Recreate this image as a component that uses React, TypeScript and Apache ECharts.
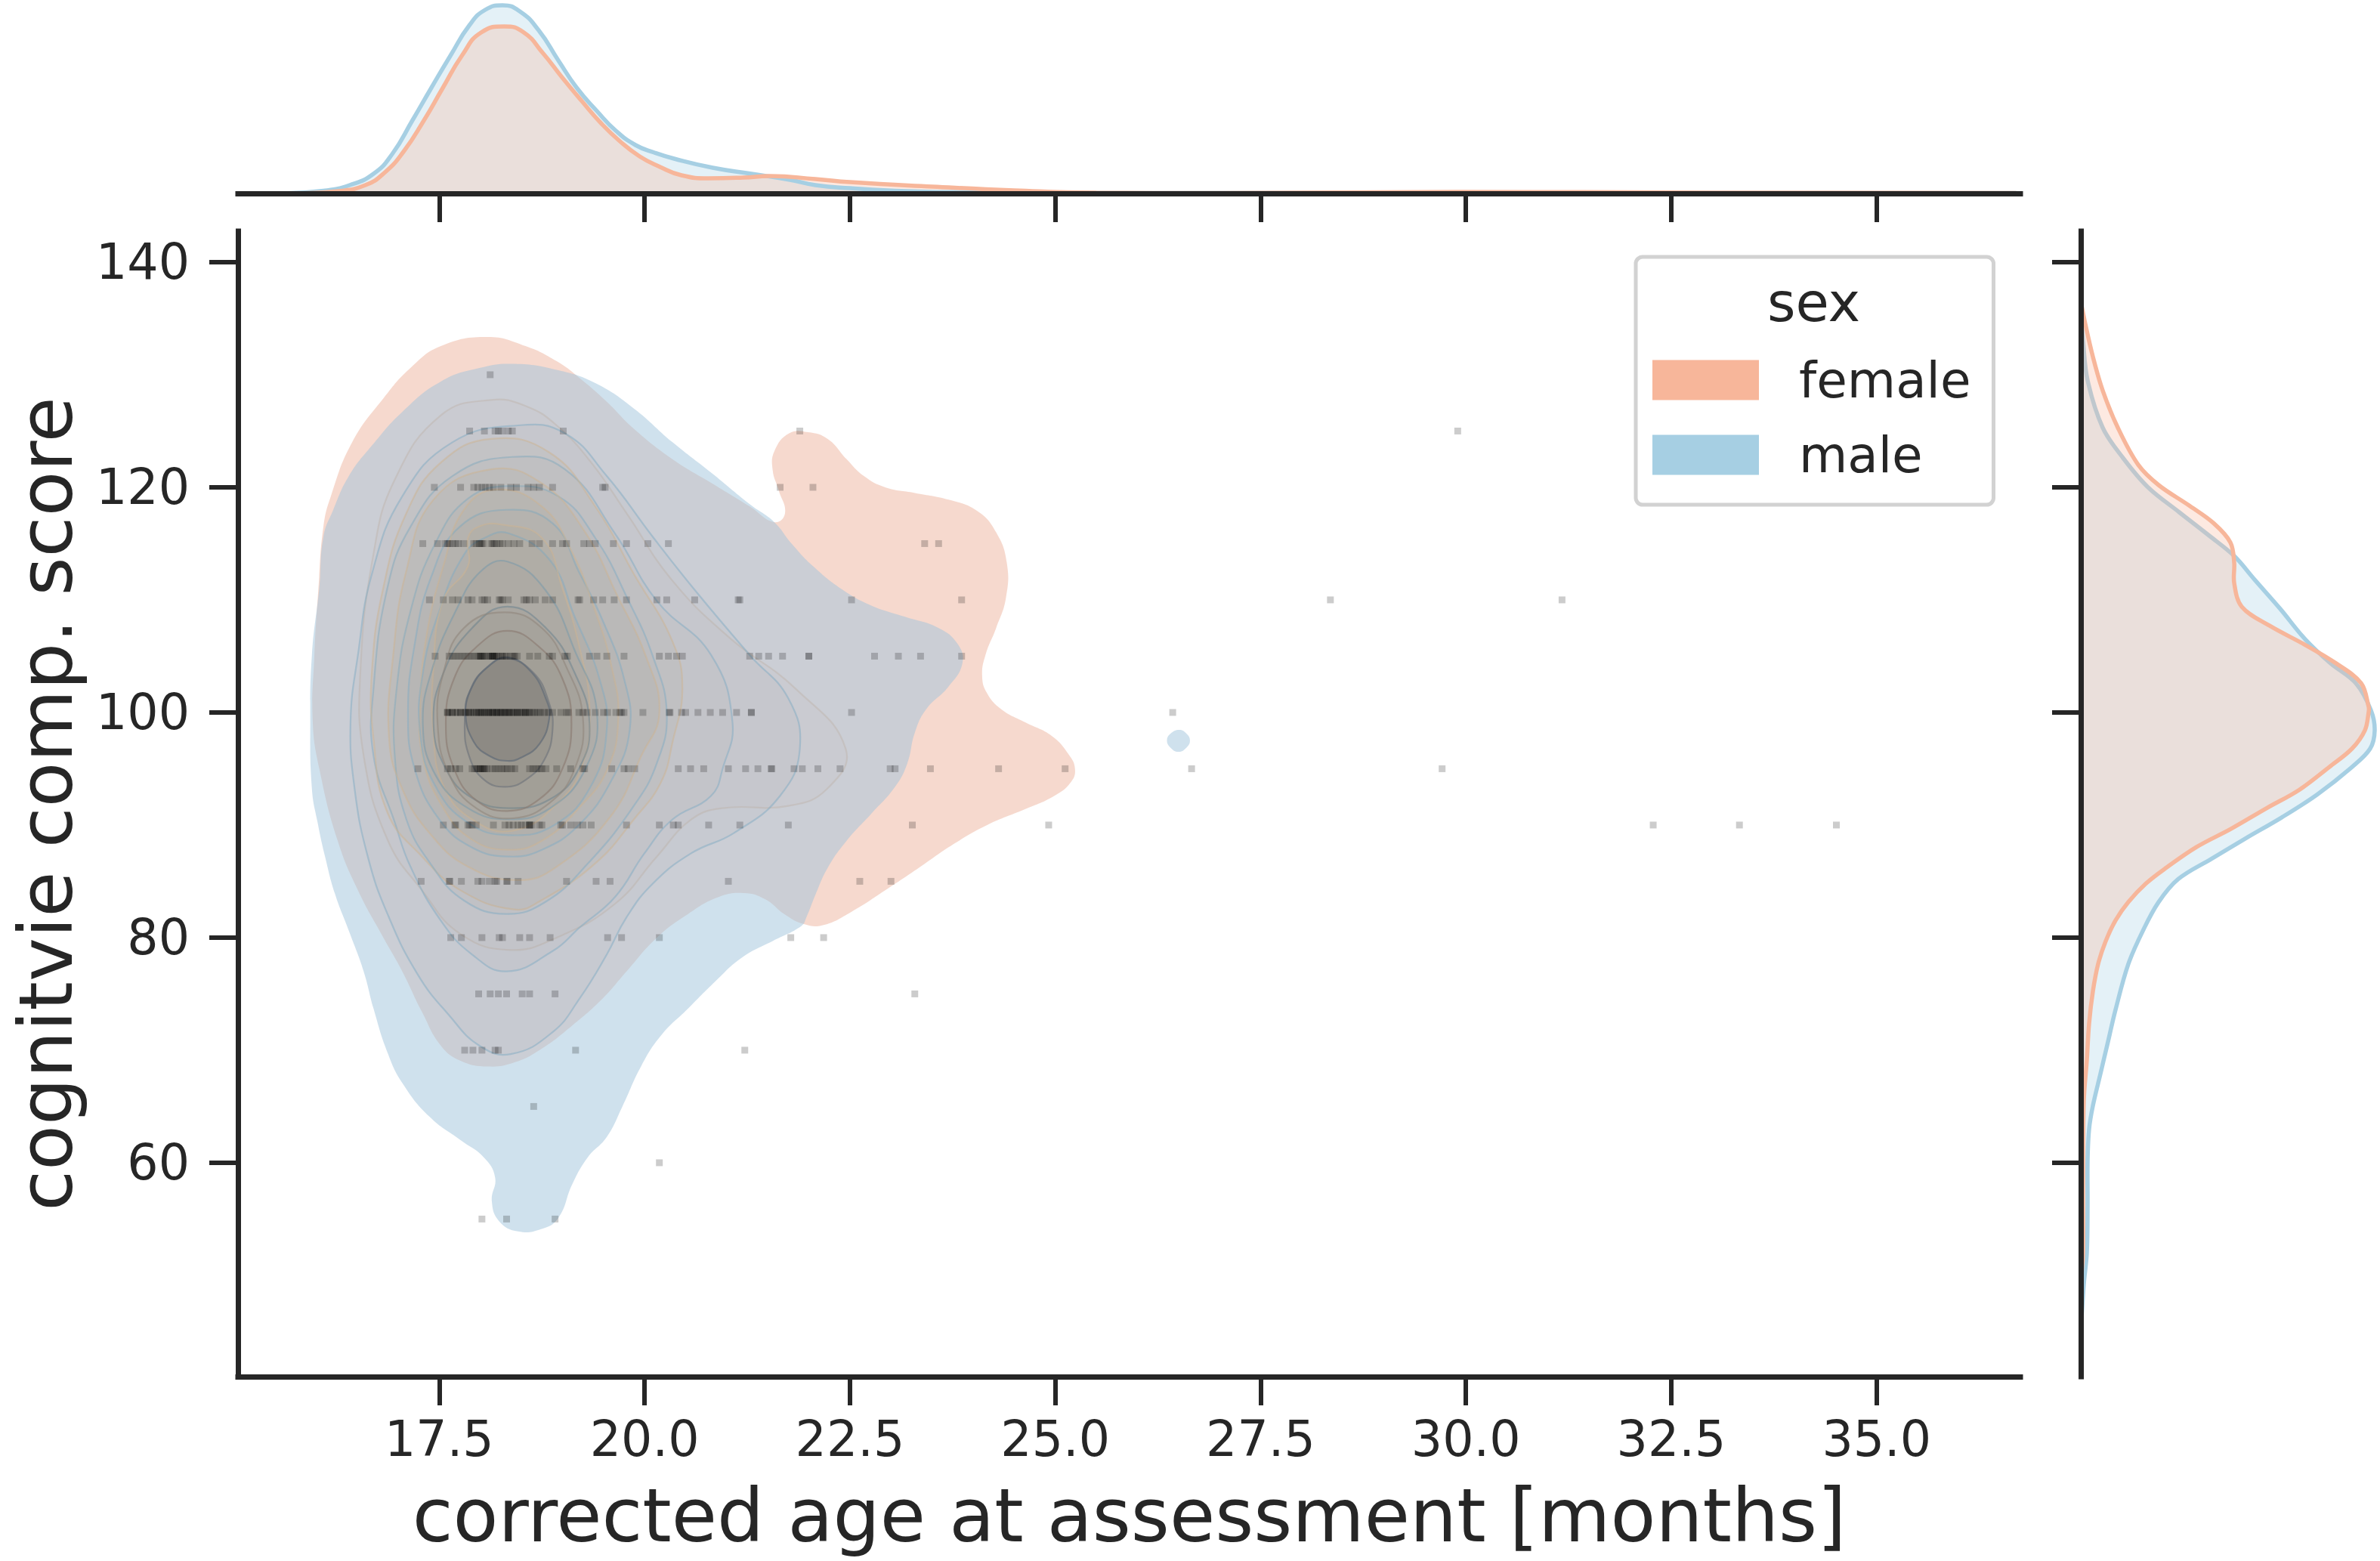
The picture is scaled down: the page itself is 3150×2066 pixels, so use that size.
import React, { useEffect, useRef } from "react";
import * as echarts from "echarts";

// ---------- ticks & labels ----------
const ageTicks = [17.5, 20, 22.5, 25, 27.5, 30, 32.5, 35];
const scoreTicks = [60, 80, 100, 120, 140];
const xTitle = "corrected age at assessment [months]";
const yTitle = "cognitvie comp. score";
const sexLabels = ["female", "male"];

// ---------- KDE contour levels, [age, score] ----------
const femaleL0 = [[18.09,133.36],[18.55,132.55],[18.93,131.2],[19.21,129.7],[19.54,127.6],[19.87,125.2],[20.34,122.5],[20.81,120.4],[21.28,118.3],[21.58,116.9],[21.71,117.7],[21.63,119.8],[21.56,121.5],[21.58,123.2],[21.76,124.8],[21.99,124.9],[22.23,124.3],[22.46,122.5],[22.67,121],[22.93,120],[23.29,119.5],[23.7,118.9],[24.05,117.9],[24.28,116],[24.41,113.3],[24.4,110.2],[24.28,107.5],[24.15,105.1],[24.11,103.2],[24.17,101.7],[24.34,100.3],[24.64,99.1],[24.96,97.9],[25.16,96.3],[25.24,95],[25.19,93.8],[24.99,92.6],[24.63,91.4],[24.17,90],[23.76,88.3],[23.34,86.2],[22.93,84.2],[22.52,82.3],[22.17,81.1],[21.94,81.2],[21.7,82.1],[21.47,83.4],[21.21,83.95],[20.9,83.6],[20.53,82.1],[20.15,80],[19.78,77],[19.49,74.6],[19.12,72.2],[18.74,70.1],[18.41,68.9],[18.09,68.55],[17.76,69.06],[17.52,70.4],[17.29,73.4],[17.05,77],[16.82,80],[16.51,84.2],[16.26,88.68],[16.04,95],[15.96,99.15],[15.98,105.1],[16.03,111.1],[16.09,116.5],[16.18,119.2],[16.44,124],[16.82,127.9],[17.15,130.6],[17.52,132.55]];
const maleL0 = [[18.41,130.97],[18.95,130.4],[19.4,129.26],[19.87,127],[20.34,124],[20.81,121.3],[21.28,118.5],[21.58,116.9],[21.79,115],[22.05,113],[22.41,110.9],[22.76,109.5],[23.17,108.5],[23.58,107.5],[23.81,106.1],[23.87,104.4],[23.7,102.3],[23.43,100.3],[23.29,98.2],[23.2,95.5],[23.05,93.4],[22.76,91],[22.46,88.6],[22.23,86.2],[22.08,83.8],[21.97,81.8],[21.91,81.04],[21.56,79.7],[21.18,78.2],[20.86,76.1],[20.53,73.7],[20.2,71.3],[19.96,68.6],[19.73,65],[19.54,62.3],[19.31,60.5],[19.12,58.1],[18.95,55.1],[18.74,54.1],[18.46,53.9],[18.23,54.8],[18.14,56.6],[18.18,58.7],[18.04,60.5],[17.76,62],[17.38,64.1],[17.05,67.1],[16.87,69.8],[16.7,73.7],[16.58,77],[16.4,80.6],[16.23,83.9],[16.11,87.2],[16.02,90.2],[15.95,93.2],[15.93,99.15],[15.95,105.1],[16.04,111.1],[16.09,115.6],[16.21,118],[16.4,121],[16.68,123.7],[17.05,126.7],[17.52,129.4],[17.99,130.6]];
const maleBlob = [[26.51,98.45],[26.6,98.1],[26.64,97.5],[26.6,96.9],[26.5,96.5],[26.4,96.9],[26.36,97.5],[26.4,98.1]];
const femaleL1 = [[18.13,127.76],[18.56,127.2],[18.93,125.5],[19.35,122.2],[19.78,117.7],[20.34,111.7],[21.04,106.6],[21.84,102.1],[22.45,96.75],[22.22,93.2],[21.75,91.7],[20.95,91.5],[20.57,90.5],[20.15,87.2],[19.64,83],[18.93,80],[18.37,78.9],[17.76,80.3],[17.29,84.2],[16.87,88.7],[16.58,96.15],[16.54,103.6],[16.7,114.1],[16.96,120.7],[17.52,126.4]];
const maleL1 = [[18.46,125.5],[19.03,124.8],[19.54,121],[20.1,115.6],[20.62,110.8],[21.28,105.1],[21.75,101.25],[21.89,96.75],[21.65,92.6],[21.09,89.3],[20.57,87.5],[20.1,84.8],[19.78,81.8],[19.54,78.5],[19.21,74.6],[18.88,71.6],[18.37,69.65],[17.99,70.4],[17.62,73.1],[17.24,76.7],[16.87,82.1],[16.63,87.2],[16.47,93.2],[16.42,99.15],[16.51,105.1],[16.68,112.3],[17.05,119.2],[17.66,124]];
const femaleL2 = [[18.13,124.3],[18.84,123.1],[19.4,118.3],[19.87,112.3],[20.34,106.3],[20.46,102.15],[20.34,97.35],[20.2,93.8],[19.87,90.5],[19.4,86.6],[18.74,83.3],[18.41,82.5],[17.76,84.2],[17.29,87.2],[16.87,91.1],[16.7,97.65],[16.68,103.6],[16.82,111.1],[17.1,117.7],[17.52,122.2]];
const maleL2 = [[18.39,122.7],[19.03,121.6],[19.64,115.9],[20.15,109.9],[20.81,105.1],[21.07,99.15],[20.95,95],[20.81,92.6],[20.34,90.5],[20,87.5],[19.64,83.6],[19.21,80.9],[18.88,78.8],[18.32,77],[17.9,78.5],[17.52,81.5],[17.15,86.3],[16.96,90.2],[16.7,96.15],[16.7,102.15],[16.87,111.1],[17.15,116.5],[17.66,121]];
const femaleL3 = [[18.13,121.6],[18.74,120.4],[19.26,116.2],[19.68,110.2],[20.01,105.1],[20.18,100],[19.96,96.15],[19.59,90.8],[18.93,86.3],[18.46,85.1],[17.85,86.3],[17.38,89.3],[17.05,93.2],[16.89,97.65],[16.94,105.1],[17.1,112.6],[17.43,118.9]];
const maleL3 = [[18.35,120.1],[18.95,119.2],[19.4,115.5],[19.8,110],[20.1,105],[20.27,100],[20.15,95.5],[19.85,91.5],[19.3,86.5],[18.8,83.2],[18.32,82.1],[17.8,83.3],[17.4,86.5],[17.1,90.5],[16.96,96],[16.98,102],[17.15,109],[17.45,115],[17.85,119]];
const femaleL4 = [[18.2,119.8],[18.75,118.3],[19.1,114.5],[19.4,109],[19.6,104],[19.68,99.5],[19.55,95],[19.2,91.5],[18.75,88.6],[18.35,87.8],[17.9,88.7],[17.55,91.5],[17.3,96],[17.27,101],[17.35,107],[17.55,113],[17.8,118]];
const maleL4 = [[18.32,118],[18.88,116.8],[19.2,112.5],[19.5,108],[19.75,103],[19.82,98.5],[19.6,94],[19.2,90],[18.75,87.8],[18.35,87.2],[17.9,88],[17.5,90.5],[17.2,95],[17.12,100],[17.2,106],[17.4,112],[17.75,116.5]];
const femaleL5 = [[18.25,116.7],[18.75,115.5],[19,111],[19.2,106],[19.33,100.5],[19.25,95.5],[18.95,92],[18.4,89.5],[17.9,90.5],[17.55,93.5],[17.43,98],[17.43,104],[17.55,110],[17.85,113],[17.85,115.5],[17.98,116.5]];
const maleL5 = [[18.35,115.9],[18.85,113.5],[19.15,108.5],[19.45,103],[19.54,98.5],[19.35,93.5],[18.9,90],[18.35,89.1],[17.85,90.2],[17.45,93.5],[17.27,98],[17.3,103.5],[17.5,109],[17.8,114],[18.05,115.5]];
const femaleL6 = [[18.3,108.9],[18.75,107.5],[19.05,104],[19.25,99.5],[19.15,95],[18.85,92],[18.4,90.6],[17.95,91.5],[17.62,94.5],[17.48,99],[17.55,103.5],[17.8,107.5]];
const maleL6 = [[18.33,113.4],[18.8,110.8],[19.15,105.5],[19.42,100],[19.28,95],[18.85,91.5],[18.35,90.5],[17.85,91.5],[17.45,94.5],[17.3,99],[17.42,104],[17.7,109],[18,112.5]];
const femaleL7 = [[18.33,107.25],[18.72,105.8],[19,103],[19.11,99],[19,95],[18.72,92.3],[18.33,91.25],[17.95,92.2],[17.68,95],[17.58,99],[17.68,103],[17.95,105.8]];
const maleL7 = [[18.33,109.4],[18.8,107.5],[19.15,103.5],[19.33,99],[19.2,95],[18.85,92.3],[18.35,91.5],[17.9,92.4],[17.58,95],[17.43,99],[17.55,103.5],[17.9,107.5]];
const femaleL8 = [[18.33,104.8],[18.65,103.5],[18.83,101],[18.88,98.5],[18.78,95.8],[18.55,94],[18.3,93.4],[18.05,94],[17.87,96],[17.81,99],[17.88,102],[18.08,104]];
const maleL8 = [[18.33,104.9],[18.62,103.6],[18.8,101.2],[18.84,99.5],[18.72,97.2],[18.5,96],[18.33,95.7],[18.12,96.1],[17.92,97.4],[17.82,100],[17.9,102.3],[18.1,104.1]];

// ---------- individual assessments: ages per score row ----------
const dots130 = [18.12];
const dots125 = [17.87,18.05,18.18,18.22,18.26,18.34,18.39,19.01,21.89,29.9];
const dots120 = [17.44,17.76,17.92,17.97,18.02,18.06,18.11,18.16,18.25,18.37,18.44,18.58,18.65,18.72,18.88,19.49,19.52,21.65,22.05];
const dots115 = [17.3,17.48,17.57,17.6,17.62,17.66,17.7,17.73,17.8,17.92,17.95,17.99,18.0,18.02,18.04,18.13,18.15,18.17,18.2,18.24,18.27,18.34,18.41,18.48,18.63,18.72,18.88,19,19.05,19.26,19.33,19.4,19.62,19.78,20.04,20.29,23.41,23.58];
const dots110 = [17.38,17.55,17.66,17.73,17.85,17.9,18.02,18.05,18.09,18.23,18.25,18.27,18.34,18.53,18.56,18.6,18.67,18.79,18.88,19.19,19.21,19.38,19.49,19.63,19.78,20.15,20.27,20.61,21.14,21.16,22.52,23.86,28.35,31.17];
const dots105 = [17.45,17.62,17.66,17.7,17.74,17.78,17.82,17.86,17.9,17.94,17.98,18,18,18.02,18.02,18.05,18.08,18.1,18.13,18.15,18.15,18.15,18.17,18.17,18.2,18.22,18.25,18.27,18.3,18.32,18.37,18.4,18.42,18.45,18.6,18.7,18.84,18.88,19.03,19.06,19.33,19.42,19.54,19.75,20.18,20.29,20.39,20.46,21.28,21.39,21.51,21.68,22,22,22.8,23.09,23.36,23.86];
const dots100 = [17.6,17.6,17.62,17.66,17.66,17.7,17.72,17.76,17.76,17.8,17.82,17.86,17.86,17.88,17.92,17.95,17.95,17.98,18,18.02,18.02,18.05,18.07,18.1,18.1,18.12,18.15,18.15,18.17,18.2,18.2,18.22,18.25,18.25,18.27,18.3,18.3,18.33,18.35,18.35,18.38,18.4,18.42,18.45,18.45,18.48,18.5,18.53,18.55,18.55,18.58,18.6,18.63,18.66,18.7,18.73,18.78,18.83,18.88,18.98,19.05,19.07,19.2,19.25,19.3,19.4,19.5,19.55,19.65,19.7,19.72,19.75,19.98,20.3,20.31,20.45,20.5,20.65,20.8,20.95,21.12,21.3,21.3,22.52,26.43];
const dots95 = [17.24,17.6,17.64,17.7,17.75,17.9,17.93,17.96,17.98,18,18,18.03,18.05,18.05,18.08,18.14,18.18,18.22,18.26,18.3,18.33,18.38,18.42,18.6,18.64,18.68,18.72,18.75,18.8,18.93,19.1,19.25,19.27,19.6,19.75,19.8,19.88,20.41,20.56,20.72,21.02,21.23,21.38,21.54,21.55,21.82,21.92,22.11,22.38,22.99,23.05,23.48,24.31,25.12,26.66,29.71];
const dots90 = [17.55,17.69,17.7,17.85,17.87,17.9,17.95,18.16,18.3,18.35,18.4,18.46,18.5,18.55,18.6,18.6,18.6,18.63,18.72,18.75,18.98,19,19.1,19.18,19.25,19.35,19.78,20.18,20.35,20.41,20.78,21.16,21.75,23.26,24.92,32.28,33.33,34.51];
const dots85 = [17.28,17.62,17.63,17.77,17.97,18.02,18.11,18.18,18.2,18.32,18.33,18.46,19.05,19.41,19.58,21.02,22.62,23.0];
const dots80 = [17.64,17.77,18.02,18.23,18.27,18.48,18.6,18.85,19.55,19.72,20.18,21.78,22.18];
const dots75 = [17.98,18.12,18.22,18.32,18.51,18.6,18.91,23.29];
const dots70 = [17.81,17.91,18.02,18.18,18.22,19.16,21.22];
const dots65 = [18.65];
const dots60 = [20.18];
const dots55 = [18.02,18.32,18.91];

// ---------- marginal densities ----------
const maleAge = [15.6,16.09,16.41,16.7,16.93,17.17,17.4,17.64,17.87,18.06,18.27,18.48,18.71,18.95,19.18,19.42,19.65,19.89,20.12,20.36,20.83,21.3,21.77,22.08,22.5,23.2,24,26,30,36.7];
const maleAgeDensity = [0,0.007,0.022,0.052,0.105,0.192,0.278,0.366,0.446,0.486,0.498,0.482,0.432,0.352,0.278,0.218,0.166,0.128,0.108,0.092,0.068,0.052,0.036,0.022,0.014,0.006,0.003,0.001,0.002,0.001];
const femaleAge = [15.8,16.27,16.6,16.84,17.07,17.31,17.54,17.78,18.01,18.29,18.53,18.76,19,19.23,19.47,19.7,19.94,20.17,20.45,20.78,21.2,21.53,22.08,22.5,23.5,24.5,25.5,27,29.9,33,36.7];
const femaleAgeDensity = [0,0.006,0.022,0.056,0.112,0.192,0.278,0.366,0.426,0.442,0.426,0.372,0.306,0.246,0.186,0.138,0.098,0.072,0.048,0.04,0.042,0.046,0.038,0.03,0.018,0.008,0.002,0.001,0.004,0.002,0.001];

const maleScore = [136,133,129.5,125.3,122.6,120,117.8,115.7,113.9,111.8,109.2,106.5,104.4,102.6,100.2,98.41,96.79,95.16,92.72,90.68,88.85,87,85.2,83.16,80.72,77.67,73.6,70.75,67.9,65.06,63,60.18,56.1,52,49.2,45];
const maleScoreDensity = [0,0.0003,0.0009,0.0029,0.0056,0.0089,0.013,0.017,0.0203,0.023,0.0264,0.0297,0.033,0.0364,0.0384,0.0389,0.0383,0.0359,0.0313,0.0266,0.0219,0.0173,0.0129,0.0103,0.0083,0.0063,0.0046,0.0036,0.0026,0.0016,0.0011,0.0009,0.0009,0.0008,0.0004,0];
const femaleScore = [136.5,134.5,131.6,128.6,125.3,122,120.2,118.4,116.8,115.1,113.3,111.5,109.4,107.7,106,104.4,102.6,100.5,100.04,98.41,96.79,95.16,93.12,91.5,89.67,88.04,86.2,84.79,83.16,81.53,79.7,77.67,75.23,72.38,69.12,65.5,58.1,52,50,46];
const femaleScoreDensity = [0,0.0006,0.0016,0.0029,0.0049,0.0076,0.0103,0.0143,0.0176,0.0198,0.0203,0.0203,0.0213,0.025,0.0297,0.0337,0.0371,0.0381,0.0381,0.0376,0.0359,0.0329,0.0289,0.0246,0.0199,0.0153,0.0113,0.0086,0.0063,0.0046,0.0033,0.0023,0.0016,0.0011,0.0008,0.0004,0.0003,0.0003,0.0001,0];

// ---------- styling ----------
const INK = "#262626";
const FONT = "DejaVu Sans";
const FEMALE = "#F7B69A";
const MALE = "#A6CFE3";

const pair = (a: number[], b: number[]) => a.map((v, i) => [v, b[i]]);
const row = (score: number, ages: number[]) => ages.map((a) => [a, score]);

const dots = [
  ...row(130, dots130), ...row(125, dots125), ...row(120, dots120), ...row(115, dots115),
  ...row(110, dots110), ...row(105, dots105), ...row(100, dots100), ...row(95, dots95),
  ...row(90, dots90), ...row(85, dots85), ...row(80, dots80), ...row(75, dots75),
  ...row(70, dots70), ...row(65, dots65), ...row(60, dots60), ...row(55, dots55),
];

const fInner = "rgba(145,130,85,0.06)";
const mInner = "rgba(115,118,110,0.035)";
const fLine = "rgba(205,180,145,0.5)";
const mLine = "rgba(130,172,195,0.5)";
const layers = [
  { pts: femaleL0, fill: "rgba(237,179,157,0.5)", line: "none" },
  { pts: maleL0, fill: "rgba(159,195,219,0.5)", line: "none" },
  { pts: maleBlob, fill: "rgba(159,195,219,0.5)", line: "none" },
  { pts: femaleL1, fill: "rgba(175,155,115,0.04)", line: "rgba(190,180,170,0.45)" },
  { pts: maleL1, fill: mInner, line: mLine },
  { pts: maleL2, fill: mInner, line: mLine },
  { pts: femaleL2, fill: fInner, line: fLine },
  { pts: maleL3, fill: mInner, line: mLine },
  { pts: femaleL3, fill: fInner, line: fLine },
  { pts: maleL4, fill: mInner, line: mLine },
  { pts: femaleL4, fill: fInner, line: fLine },
  { pts: maleL5, fill: mInner, line: mLine },
  { pts: femaleL5, fill: fInner, line: fLine },
  { pts: maleL6, fill: mInner, line: "rgba(125,155,170,0.6)" },
  { pts: maleL7, fill: "rgba(100,100,95,0.05)", line: "rgba(115,135,145,0.6)" },
  { pts: femaleL6, fill: "rgba(125,115,90,0.05)", line: "rgba(145,135,125,0.6)" },
  { pts: femaleL7, fill: "rgba(115,108,90,0.07)", line: "rgba(140,125,115,0.65)" },
  { pts: femaleL8, fill: "rgba(95,95,90,0.12)", line: "rgba(115,120,125,0.7)" },
  { pts: maleL8, fill: "rgba(90,90,90,0.2)", line: "rgba(100,110,120,0.75)" },
];

const axisBase = {
  z: 10,
  axisLine: { show: true, lineStyle: { color: INK, width: 7, cap: "square" } },
  axisTick: { show: true, length: 38, lineStyle: { color: INK, width: 6 } },
  splitLine: { show: false },
};

const curve = (name: string, color: string, xs: number[], ys: number[], alpha: number) => ({
  type: "line", name, xAxisIndex: 1, yAxisIndex: 1, data: pair(xs, ys),
  showSymbol: false, symbol: "none", smooth: 0.5, color,
  lineStyle: { color, width: 5.5 }, areaStyle: { color, opacity: alpha }, silent: true,
});

const sideCurve = (name: string, color: string, hs: number[], vs: number[], alpha: number) => ({
  type: "custom", name, xAxisIndex: 2, yAxisIndex: 2, data: [[0, 100]], silent: true, color,
  renderItem: (_: any, api: any) => {
    const pts = pair(hs, vs).map((p) => api.coord(p));
    const base = [api.coord([0, vs[0]]), ...pts, api.coord([0, vs[vs.length - 1]])];
    return {
      type: "group",
      children: [
        { type: "polygon", shape: { points: base, smooth: 0.35 }, style: { fill: color, opacity: alpha, stroke: "none" } },
        { type: "polyline", shape: { points: pts, smooth: 0.35 }, style: { fill: "none", stroke: color, lineWidth: 5.5 } },
      ],
    };
  },
});

function buildOption() {
  return {
    animation: false,
    backgroundColor: "#ffffff",
    textStyle: { fontFamily: FONT },
    grid: [
      { left: 315, top: 306, width: 2359, height: 1516, outerBoundsMode: "none" },
      { left: 315, top: 0, width: 2359, height: 256, outerBoundsMode: "none" },
      { left: 2754, top: 306, width: 396, height: 1516, outerBoundsMode: "none" },
    ],
    xAxis: [
      {
        ...axisBase, type: "value", gridIndex: 0, min: 15.05, max: 36.75,
        name: xTitle, nameLocation: "middle", nameGap: 135,
        nameTextStyle: { fontFamily: FONT, fontSize: 98, color: INK },
        axisTick: { ...axisBase.axisTick, customValues: ageTicks },
        axisLabel: { customValues: ageTicks, margin: 50, fontFamily: FONT, fontSize: 65, color: INK, formatter: (v: number) => v.toFixed(1), hideOverlap: false },
      },
      {
        ...axisBase, type: "value", gridIndex: 1, min: 15.05, max: 36.75,
        axisTick: { ...axisBase.axisTick, customValues: ageTicks },
        axisLabel: { show: false },
      },
      { type: "value", gridIndex: 2, min: 0, max: 0.0396, show: false },
    ],
    yAxis: [
      {
        ...axisBase, type: "value", gridIndex: 0, min: 41, max: 142.75,
        name: yTitle, nameLocation: "middle", nameGap: 205, nameRotate: 90,
        nameTextStyle: { fontFamily: FONT, fontSize: 98, color: INK },
        axisTick: { ...axisBase.axisTick, customValues: scoreTicks },
        axisLabel: { customValues: scoreTicks, margin: 64, fontFamily: FONT, fontSize: 65, color: INK },
      },
      { type: "value", gridIndex: 1, min: 0, max: 0.512, show: false },
      {
        ...axisBase, type: "value", gridIndex: 2, min: 41, max: 142.75,
        axisTick: { ...axisBase.axisTick, customValues: scoreTicks },
        axisLabel: { show: false },
      },
    ],
    legend: {
      left: 2165, top: 340, orient: "vertical", selectedMode: false,
      padding: [130, 30, 33, 22], itemWidth: 141, itemHeight: 53, itemGap: 33,
      backgroundColor: "#ffffff", borderColor: "#d2d2d2", borderWidth: 5, borderRadius: 9,
      textStyle: { fontFamily: FONT, fontSize: 66, color: INK, padding: [0, 0, 0, 48] },
      data: [
        { name: sexLabels[0], icon: "rect", itemStyle: { color: FEMALE, opacity: 1 } },
        { name: sexLabels[1], icon: "rect", itemStyle: { color: MALE, opacity: 1 } },
      ],
      z: 20,
    },
    graphic: [
      { type: "text", z: 30, left: 2339, top: 364, style: { text: "sex", font: `72px '${FONT}'`, fill: INK } },
    ],
    series: [
      {
        type: "custom", xAxisIndex: 0, yAxisIndex: 0, silent: true, clip: true,
        data: layers.map((_, i) => [i]),
        renderItem: (params: any, api: any) => {
          const l = layers[params.dataIndex];
          return {
            type: "polygon",
            shape: { points: l.pts.map((p) => api.coord(p)), smooth: 0.45 },
            style: { fill: l.fill, stroke: l.line, lineWidth: 2.2 },
          };
        },
      },
      {
        type: "scatter", xAxisIndex: 0, yAxisIndex: 0, data: dots, symbol: "rect", symbolSize: 9,
        itemStyle: { color: "rgba(0,0,0,0.25)" }, silent: true, z: 5,
      },
      curve(sexLabels[1], MALE, maleAge, maleAgeDensity, 0.3),
      curve(sexLabels[0], FEMALE, femaleAge, femaleAgeDensity, 0.3),
      sideCurve(sexLabels[1], MALE, maleScoreDensity, maleScore, 0.3),
      sideCurve(sexLabels[0], FEMALE, femaleScoreDensity, femaleScore, 0.3),
    ],
  };
}

export default function App() {
  const ref = useRef<HTMLDivElement>(null);
  useEffect(() => {
    document.body.style.margin = "0";
    const chart = echarts.init(ref.current!, null, { renderer: "svg" });
    chart.setOption(buildOption() as any);
    return () => chart.dispose();
  }, []);
  return <div ref={ref} style={{ width: 3150, height: 2066 }} />;
}
